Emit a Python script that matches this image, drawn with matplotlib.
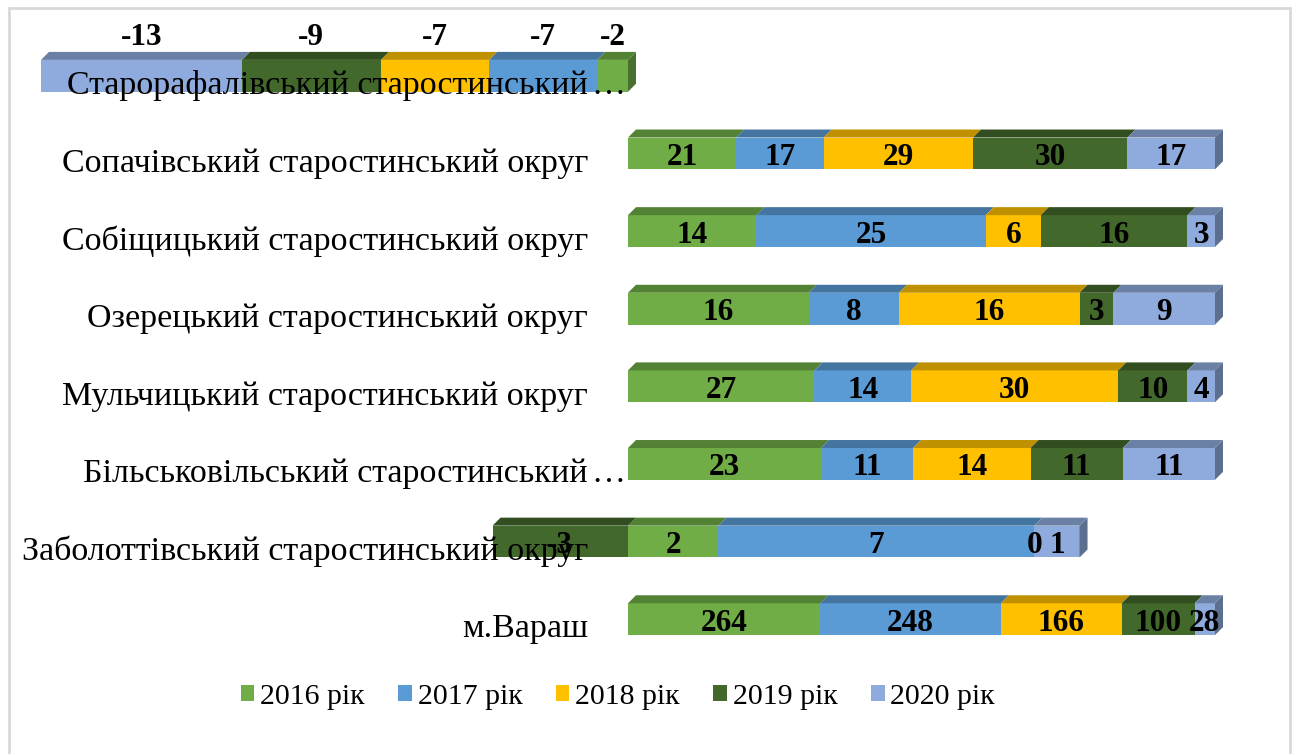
import numpy as np
import matplotlib.pyplot as plt
from matplotlib.patches import Rectangle, Polygon, Patch
from matplotlib.colors import to_rgb

plt.rcParams['font.family'] = ['Liberation Serif', 'DejaVu Serif']

# дані (знизу вгору)
categories = ['м.Вараш',
              'Заболоттівський старостинський округ',
              'Більськовільський старостинський…',
              'Мульчицький старостинський округ',
              'Озерецький старостинський округ',
              'Собіщицький старостинський округ',
              'Сопачівський старостинський округ',
              'Старорафалівський старостинський…']
series = ['2016 рік', '2017 рік', '2018 рік', '2019 рік', '2020 рік']
v2016 = [264, 2, 23, 27, 16, 14, 21, -2]
v2017 = [248, 7, 11, 14, 8, 25, 17, -7]
v2018 = [166, 0, 14, 30, 16, 6, 29, -7]
v2019 = [100, -3, 11, 10, 3, 16, 30, -9]
v2020 = [28, 1, 11, 4, 9, 3, 17, -13]
colors = ['#70AD47', '#5B9BD5', '#FFC000', '#43682B', '#8FAADC']

values = np.array([v2016, v2017, v2018, v2019, v2020], dtype=float)

def darker(c, k=0.75):
    r, g, b = to_rgb(c)
    return (r * k, g * k, b * k)

fig = plt.figure(figsize=(12.94, 7.54), dpi=100)
W, H = 1294, 754
ax = fig.add_axes([41 / W, 1 - 658 / H, (1215 - 41) / W, (658 - 37) / H])
ax.set_xlim(-100, 100)
ax.set_ylim(-0.5, len(categories) - 0.5)
ax.axis('off')

# рамка діаграми
fig.add_artist(Rectangle((9 / W, -0.01), (1290 - 9) / W, 1 - 8 / H + 0.01,
                         transform=fig.transFigure, fill=False,
                         edgecolor='#D9D9D9', linewidth=2))

# глибина 3D-ефекту в одиницях даних (8 px)
px_x = (1215 - 41) / 200.0
px_y = (658 - 37) / len(categories)
dx = 8 / px_x
dy = 8 / px_y
h = 0.41
cat_fs = 24.5
val_fs = 22.5

for i, cat in enumerate(categories):
    col = values[:, i]
    total = np.abs(col).sum()
    pct = col / total * 100
    pos, neg = 0.0, 0.0
    segs = []
    for j in range(len(series)):
        if pct[j] >= 0:
            x0, x1 = pos, pos + pct[j]
            pos = x1
        else:
            x0, x1 = neg + pct[j], neg
            neg = x0
        segs.append((x0, x1, j))
    yb, yt = i - h / 2, i + h / 2
    for x0, x1, j in segs:
        if x1 - x0 <= 0:
            continue
        ax.add_patch(Rectangle((x0, yb), x1 - x0, h, facecolor=colors[j],
                               edgecolor='none', zorder=2, clip_on=False))
        ax.add_patch(Polygon([(x0, yt), (x1, yt), (x1 + dx, yt + dy), (x0 + dx, yt + dy)],
                             facecolor=darker(colors[j]), edgecolor='none', zorder=2,
                             clip_on=False))
    # бокова грань
    nz = [s for s in segs if s[1] - s[0] > 0]
    xr = max(s[1] for s in nz)
    jr = max(nz, key=lambda s: s[1])[2]
    ax.add_patch(Polygon([(xr, yb), (xr, yt), (xr + dx, yt + dy), (xr + dx, yb + dy)],
                         facecolor=darker(colors[jr], 0.65), edgecolor='none', zorder=2,
                         clip_on=False))

    # підпис категорії
    if cat.endswith('…'):
        ax.annotate(cat[:-1], (0, i), xytext=(-40 * 0.72, -10 * 0.72),
                    textcoords='offset points', ha='right', va='center',
                    fontsize=cat_fs, zorder=3, annotation_clip=False)
        ax.annotate('…', (0, i), xytext=(-37 * 0.72, -10 * 0.72),
                    textcoords='offset points', ha='left', va='center',
                    fontsize=cat_fs, zorder=3, annotation_clip=False)
    else:
        ax.annotate(cat, (0, i), xytext=(-40 * 0.72, -10 * 0.72),
                    textcoords='offset points', ha='right', va='center',
                    fontsize=cat_fs, zorder=3, annotation_clip=False)

    # підписи значень
    all_neg = (col <= 0).all()
    for x0, x1, j in segs:
        ly = i + 0.55 if all_neg else i
        ax.annotate(f'{col[j]:g}', ((x0 + x1) / 2, ly), xytext=(0, -4 * 0.72),
                    textcoords='offset points', ha='center', va='center',
                    fontsize=val_fs, fontweight='bold', zorder=4,
                    annotation_clip=False)

handles = [Patch(facecolor=c, edgecolor='none') for c in colors]
fig.legend(handles, series, loc='center', bbox_to_anchor=(618 / W, 1 - 697 / H),
           ncol=5, frameon=False, fontsize=21.5, handlelength=0.45, handleheight=0.45,
           handletextpad=0.2, columnspacing=1.12)

fig.savefig('out.png', dpi=100)
